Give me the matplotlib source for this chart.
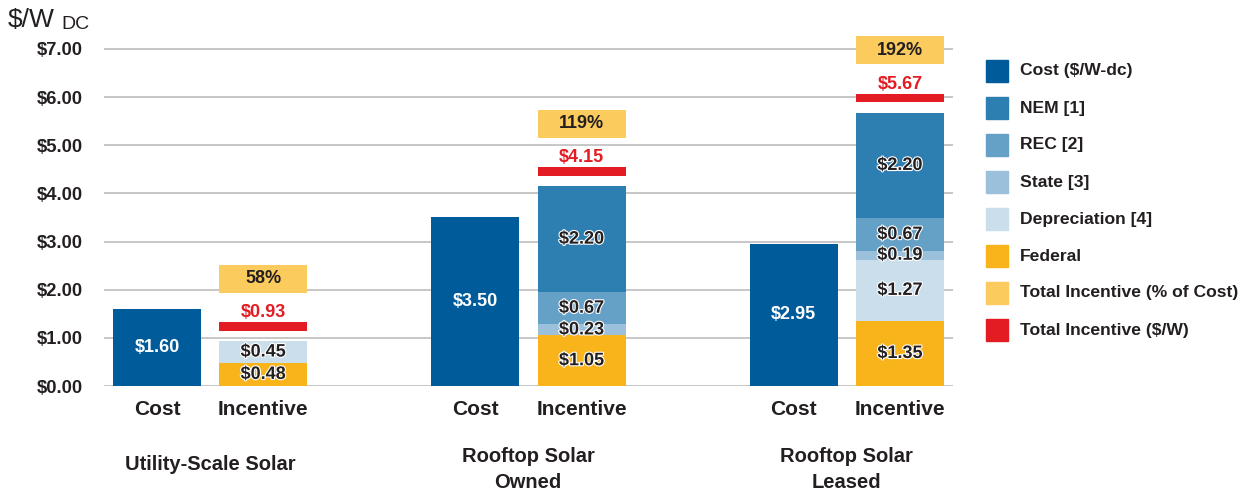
import matplotlib
matplotlib.use("Agg")
import matplotlib.pyplot as plt
import matplotlib.patheffects as pe
from matplotlib.patches import Rectangle
import numpy as np

plt.rcParams['font.family'] = ['Liberation Sans', 'DejaVu Sans']

# data
groups = ['Utility-Scale Solar', 'Rooftop Solar\nOwned', 'Rooftop Solar\nLeased']
cost = [1.60, 3.50, 2.95]
federal = [0.48, 1.05, 1.35]
depreciation = [0.45, 0.00, 1.27]
state = [0.00, 0.23, 0.19]
rec = [0.00, 0.67, 0.67]
nem = [0.00, 2.20, 2.20]
total_incentive = [0.93, 4.15, 5.67]
pct_of_cost = [58, 119, 192]

c_cost = '#005b9b'
c_nem = '#2d7eb1'
c_rec = '#65a0c6'
c_state = '#9bc0db'
c_dep = '#cadeec'
c_fed = '#f9b31b'
c_pct = '#fccb5d'
c_red = '#e31b23'
dark = '#231f20'

W, H = 1248, 490
fig = plt.figure(figsize=(W / 100, H / 100), dpi=100)
ax = fig.add_axes([104 / W, 1 - 386 / H, 849 / W, (386 - 34.5) / H])

x = np.arange(len(groups)) * 3
w = 0.83
outline = [pe.withStroke(linewidth=1.6, foreground='white')]

ax.bar(x, cost, w, color=c_cost, zorder=3)
for xi, v in zip(x, cost):
    ax.text(xi, v / 2, f'${v:.2f}', ha='center', va='center', color='white',
            fontsize=13, fontweight='bold', zorder=5)

segments = [federal, depreciation, state, rec, nem]
seg_colors = [c_fed, c_dep, c_state, c_rec, c_nem]
bottom = np.zeros(len(groups))
for vals, col in zip(segments, seg_colors):
    vals = np.array(vals)
    ax.bar(x + 1, vals, w, bottom=bottom, color=col, zorder=3)
    for xi, b, v in zip(x + 1, bottom, vals):
        if v > 0:
            ax.text(xi, b + v / 2, f'${v:.2f}', ha='center', va='center', color=dark,
                    fontsize=13, fontweight='bold', zorder=5, path_effects=outline)
    bottom += vals

# total incentive markers
red_bottom = np.array(total_incentive) + 0.22
ax.bar(x + 1, 0.17, w, bottom=red_bottom, color=c_red, zorder=3)
for xi, b, v in zip(x + 1, red_bottom, total_incentive):
    ax.text(xi, b + 0.38, f'${v:.2f}', ha='center', va='center', color=c_red,
            fontsize=13, fontweight='bold', zorder=5)

pct_bottom = red_bottom + 0.17 + 0.62
ax.bar(x + 1, 0.58, w, bottom=pct_bottom, color=c_pct, zorder=3)
for xi, b, p in zip(x + 1, pct_bottom, pct_of_cost):
    ax.text(xi, b + 0.29, f'{p}%', ha='center', va='center', color=dark,
            fontsize=13, fontweight='bold', zorder=5)

ax.set_xlim(-0.5, 7.5)
ax.set_ylim(0, 7.3)
ax.set_yticks(np.arange(0, 8))
ax.set_yticklabels([f'${v:.2f}' for v in range(8)])
ax.set_xticks(np.concatenate([x, x + 1]))
ax.set_xticklabels(['Cost'] * 3 + ['Incentive'] * 3)
ax.tick_params(axis='y', length=0, pad=15, labelsize=13.2, labelcolor=dark)
ax.tick_params(axis='x', length=0, pad=10, labelsize=15, labelcolor=dark)
for lab in ax.get_xticklabels() + ax.get_yticklabels():
    lab.set_fontweight('bold')
ax.grid(axis='y', color='#bdbdbd', linewidth=1.2, zorder=0)
for s in ax.spines.values():
    s.set_visible(False)

# group labels under each pair of bars
for xi, g in zip(x, groups):
    lines = g.split('\n')
    baselines = [470] if len(lines) == 1 else [462, 488]
    xc = (104 + (xi + 1.0) * 106) / W
    for line, yb in zip(lines, baselines):
        fig.text(xc, 1 - yb / H, line, ha='center', va='baseline',
                 fontsize=14.5, fontweight='bold', color=dark)

# unit label
fig.text(8 / W, 1 - 27 / H, '$/W', fontsize=19, color=dark, va='baseline')
fig.text(61 / W, 1 - 29 / H, 'DC', fontsize=14, color=dark, va='baseline')

# legend
leg_colors = [c_cost, c_nem, c_rec, c_state, c_dep, c_fed, c_pct, c_red]
leg_labels = ['Cost ($/W-dc)', 'NEM [1]', 'REC [2]', 'State [3]', 'Depreciation [4]', 'Federal',
              'Total Incentive (% of Cost)', 'Total Incentive ($/W)']
for i, (c, lab) in enumerate(zip(leg_colors, leg_labels)):
    top = 60 + 37 * i
    fig.patches.append(Rectangle((986 / W, 1 - (top + 22) / H), 22 / W, 22 / H,
                                 transform=fig.transFigure, color=c, figure=fig))
    fig.text(1020 / W, 1 - (top + 11) / H, lab, ha='left', va='center',
             fontsize=12.6, fontweight='bold', color=dark)

fig.savefig('out.png', dpi=100)
